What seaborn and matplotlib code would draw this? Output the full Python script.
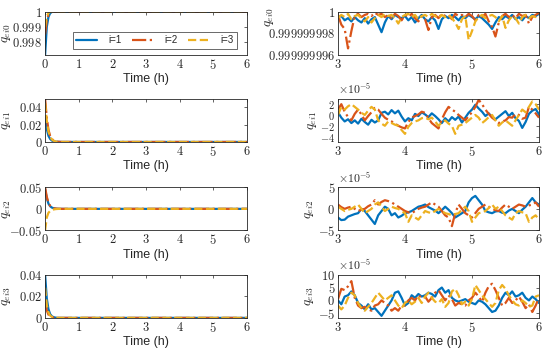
import numpy as np
import seaborn as sns
from matplotlib import pyplot as plt
from matplotlib.ticker import FuncFormatter

sns.set_style('white')
plt.rcParams['mathtext.fontset'] = 'cm'
plt.rcParams['font.family'] = ['Liberation Sans', 'DejaVu Sans']

colors = ['#0072BD', '#D95319', '#EDB120']
styles = ['-', '-.', '--']
names = ['i=1', 'i=2', 'i=3']

# transient part, whole run (0..6 h)
t_left = [0, 0.05, 0.1, 0.15, 0.2, 0.25, 0.3, 0.35, 0.4, 0.5, 6.0]
q0_left = [
    [0.99716, 0.9990, 0.99965, 0.9999, 0.99998, 1, 1, 1, 1, 1, 1],
    [0.9985, 0.99945, 0.9998, 0.99995, 1, 1, 1, 1, 1, 1, 1],
    [0.9990, 0.9997, 0.9999, 0.99998, 1, 1, 1, 1, 1, 1, 1],
]
q1_left = [
    [0.030, 0.015, 0.007, 0.0035, 0.0017, 0.0008, 0.0004, 0.0002, 0.0001, 0, 0],
    [0.050, 0.028, 0.014, 0.007, 0.0035, 0.0017, 0.0008, 0.0004, 0.0002, 0, 0],
    [0.045, 0.025, 0.012, 0.006, 0.003, 0.0015, 0.0007, 0.0003, 0.0001, 0, 0],
]
q2_left = [
    [0.045, 0.025, 0.012, 0.006, 0.003, 0.0015, 0.0007, 0.0003, 0.0001, 0, 0],
    [0.050, 0.028, 0.014, 0.007, 0.0035, 0.0017, 0.0008, 0.0004, 0.0002, 0, 0],
    [-0.050, -0.020, -0.009, -0.005, -0.003, -0.0015, -0.0007, -0.0003, -0.0001, 0, 0],
]
q3_left = [
    [0.040, 0.018, 0.008, 0.0035, 0.0015, 0.0007, 0.0003, 0.0001, 0, 0, 0],
    [0.015, 0.007, 0.003, 0.0015, 0.0007, 0.0003, 0.0001, 0, 0, 0, 0],
    [0.028, 0.012, 0.005, 0.0022, 0.001, 0.0005, 0.0002, 0.0001, 0, 0, 0],
]

# steady part (3..6 h), step 0.05 h
t_right = [3 + 0.05 * k for k in range(61)]
# q_ei0 shown as 1 - d*1e-9
q0_dev = [
    [0.5, 0.4, 0.8, 0.6, 0.9, 0.5, 0.8, 1.0, 0.6, 1.1, 0.7, 0.5, 1.2, 1.9, 1.0, 0.4, 0.7, 0.3, 0.5, 0.6,
     0.4, 0.8, 0.5, 1.0, 0.6, 0.3, 0.7, 0.9, 0.5, 0.8, 1.6, 0.7, 0.4, 0.6, 0.3, 0.5, 0.8, 0.4, 0.6, 0.3,
     0.5, 0.7, 0.4, 0.6, 0.9, 1.2, 1.6, 1.0, 0.5, 0.7, 0.4, 0.6, 0.3, 0.7, 0.5, 0.8, 0.4, 0.6, 0.3, 0.4, 0.2],
    [0.3, 1.2, 1.6, 3.4, 1.8, 0.4, 0.2, 0.5, 0.3, 0.2, 0.4, 0.1, 0.3, 0.2, 0.5, 0.3, 0.6, 0.2, 0.4, 0.8,
     0.3, 0.5, 0.2, 0.6, 0.9, 0.4, 0.7, 1.7, 0.5, 0.3, 0.6, 0.2, 0.4, 0.3, 0.7, 0.2, 0.4, 0.3, 0.5, 0.2,
     0.4, 0.8, 0.3, 0.5, 0.2, 0.9, 1.4, 2.3, 1.0, 0.4, 0.2, 0.5, 0.3, 0.6, 0.2, 0.4, 0.3, 1.1, 0.5, 0.3, 0.1],
    [0.6, 0.3, 0.5, 0.2, 0.7, 0.4, 0.3, 0.6, 0.9, 0.5, 1.0, 0.6, 0.3, 0.5, 0.2, 0.4, 0.3, 0.6, 1.1, 0.5,
     0.3, 0.2, 0.5, 0.3, 0.7, 0.4, 0.3, 0.5, 0.2, 0.4, 0.6, 0.3, 0.5, 0.3, 0.6, 1.0, 1.6, 0.7, 0.4, 2.6,
     1.8, 0.9, 0.5, 0.3, 0.6, 0.4, 0.3, 0.5, 0.9, 0.4, 1.5, 0.8, 0.4, 0.6, 1.1, 0.5, 0.3, 0.6, 0.4, 0.5, 0.3],
]
# q_ei1..q_ei3 in units of 1e-5
q1_right = [
    [0.5, -0.5, -1.2, -0.8, -1.5, -1.0, -1.6, -0.7, -1.3, -1.8, -0.9, -1.4, -1.0, 0.4, 0.6, 0.1, 0.9, 0.3, 0.8, -0.3,
     -1.2, -0.6, -1.0, 0.2, -0.2, 0.5, 0.1, -0.4, 0.3, -0.2, -0.8, -1.5, -0.6, -1.2, -0.4, -0.9, -0.3, -1.4, -0.5, 0.4,
     1.0, 1.9, 1.2, 0.6, -0.2, 0.3, -0.4, -0.8, -0.3, 0.2, 0.7, -0.2, 0.4, -0.6, -1.1, -2.4, -1.3, 0.2, 0.8, 1.1, 0.1],
    [1.0, 2.0, 0.6, -0.4, -1.0, 0.2, 1.0, 0.1, -1.0, -0.2, 0.5, 1.3, 1.0, 0.2, -0.5, -0.9, -1.2, -1.6, -2.0, -2.3,
     -2.5, -1.3, -0.5, -0.2, 0.1, 0.6, 0.4, -0.6, -1.5, -2.0, -2.5, -0.8, 0.5, 1.5, 1.0, 0.6, 0.0, -0.5, -1.0, -0.2,
     0.5, 1.5, 2.8, 2.0, 1.0, 0.2, -0.5, -1.0, -1.5, -1.2, -1.0, -0.4, -0.5, 0.2, 0.0, -0.7, -0.5, 1.5, 1.0, 0.3, -0.5],
    [0.0, 1.5, 1.0, 1.6, 2.0, 1.5, 1.0, 0.4, 0.0, 0.8, 1.5, 1.0, -1.0, -1.6, -2.0, -1.2, -1.5, -1.8, -2.0, -2.8,
     -3.5, -2.2, -1.5, -1.2, -1.0, -0.6, -0.5, -0.8, -0.5, -1.2, -2.0, -1.4, -1.0, -1.6, -2.0, -3.5, -2.0, -1.8, -1.5, -1.0,
     -0.5, 0.0, -0.5, -1.5, -1.0, -0.4, 0.0, -1.0, -2.0, -1.4, -1.0, -1.5, -2.0, -1.0, 0.0, 1.0, 0.5, 1.5, 2.5, 2.0, 1.0],
]
q2_right = [
    [-2.0, -2.6, -2.5, -1.8, -1.5, -1.2, -1.0, 0.0, -0.5, -1.5, -2.5, -3.5, -1.5, -0.5, 0.5, 0.0, -1.5, -1.0, -2.0, -1.6,
     -1.0, -0.8, -0.5, 0.0, 0.5, 0.7, 1.0, 0.4, 0.0, -0.4, -1.0, -0.3, 0.5, -0.2, -1.0, -2.0, -1.5, -1.0, -0.5, 1.5,
     2.5, 3.0, 2.0, 1.0, -0.5, -0.8, -1.0, -0.6, -0.5, -0.9, -1.0, -0.4, 0.0, -0.5, -1.0, -0.2, 0.5, 1.5, 2.5, 1.5, 1.0],
    [1.0, 0.4, 0.0, 0.3, 0.5, 0.0, -0.5, -0.2, 0.0, 0.6, 1.0, 2.0, 1.0, 1.6, 2.0, 1.8, 1.5, 1.0, 0.5, 0.0,
     -0.5, -0.8, -1.0, -0.5, 0.0, 0.3, 0.5, 1.0, 1.5, 1.0, 0.5, -0.5, -1.5, -2.0, -4.0, -1.0, 1.0, 0.0, -1.0, -1.5,
     -2.0, -1.0, 0.0, 0.5, 1.0, 0.5, 0.0, -0.3, -0.5, 0.3, 1.0, 0.5, 0.0, 0.5, 1.0, 0.8, 0.5, 0.8, 1.0, 1.5, 0.5],
    [0.5, 0.0, -0.5, -0.2, 0.0, 0.5, 1.0, 0.0, -1.0, -0.5, 0.0, 1.0, 1.5, 0.5, -0.5, 0.0, 0.5, 0.2, 0.0, -0.5,
     -1.0, -3.0, -1.5, -2.0, -2.5, -1.5, -0.5, -0.8, -1.0, -0.5, 0.0, -0.5, -1.0, -1.2, -1.5, -1.2, -1.0, -0.2, 0.5, -0.5,
     -3.0, -2.0, -1.0, -0.8, -0.5, 0.2, 1.0, 0.0, 0.5, -0.5, -1.5, -2.0, -2.5, -1.0, -0.5, -0.8, -1.0, -3.0, -2.0, -1.5, -2.5],
]
q3_right = [
    [0.0, -1.5, 1.5, 2.0, 3.5, 2.0, -1.0, -2.0, -3.5, -1.5, -3.5, -3.0, -4.5, -6.0, -4.0, -2.0, 0.0, 3.0, 3.5, 1.0,
     -2.0, -1.0, 2.0, 1.0, 2.5, 1.5, 2.0, 3.0, 2.5, 1.5, 4.0, 5.0, 3.0, 4.0, 1.0, 0.0, -0.5, 0.0, 0.5, -0.5,
     -1.0, -1.5, 0.0, -0.5, -1.5, -3.0, -4.5, -4.0, -2.0, 1.0, 3.0, 2.0, 3.5, 1.5, 2.0, 3.0, 1.0, 0.0, 1.5, 0.5, -1.0],
    [0.5, 4.5, 4.0, 5.5, 7.5, 1.0, -2.0, -3.0, -2.5, -3.5, -4.0, -2.0, -1.5, 0.0, -1.0, -2.0, -4.0, -3.0, -4.0, -2.0,
     -2.0, 0.0, 1.0, 0.0, 2.0, 1.0, 1.5, -0.5, 1.0, 3.0, 4.0, 2.0, 0.0, 2.0, 0.5, -2.0, -1.0, -1.5, -2.0, 0.0,
     1.0, 3.0, 1.5, -0.5, 3.0, 5.5, 6.5, 4.0, 1.0, -2.0, -1.0, 1.0, -1.0, 0.0, 1.5, -0.5, -3.0, -1.5, -4.5, -2.0, 1.0],
    [-2.0, -3.5, -2.0, 1.0, 3.0, 2.0, -1.0, -3.0, -4.0, -2.5, -1.0, 1.0, 3.0, 1.5, 0.0, 1.0, 2.0, 0.0, -2.0, -3.0,
     -1.0, 0.0, -1.5, -0.5, 1.0, -1.0, 1.5, 3.0, 1.0, -0.5, -1.0, 0.5, -2.5, -1.0, 3.5, 4.5, 2.0, -1.5, -0.5, -2.0,
     0.5, 6.0, 4.0, 2.0, 0.5, -1.0, -2.5, -1.0, 4.0, 6.0, 4.5, 2.0, 0.0, -1.5, -2.0, 0.0, -1.0, -2.5, -2.0, 1.5, 2.0],
]

ylabels = [r'$q_{ei0}$', r'$q_{ei1}$', r'$q_{ei2}$', r'$q_{ei3}$']
left_lims = [(0.99716, 1.0), (0, 0.05), (-0.05, 0.05), (0, 0.04)]
left_ticks = [[0.998, 0.999, 1], [0, 0.02, 0.04], [-0.05, 0, 0.05], [0, 0.02, 0.04]]
right_lims = [(0.999999996, 1.0), (-5, 3), (-5, 5), (-6.8, 10)]
right_ticks = [[0.999999996, 0.999999998, 1], [-4, -2, 0, 2], [-5, 0, 5], [-5, 0, 5, 10]]

bottoms = [0.845, 0.599, 0.349, 0.102]
h = 0.122


def mtext(v, pos=None):
    s = '%.9f' % v
    s = s.rstrip('0').rstrip('.')
    if s in ('-0', ''):
        s = '0'
    return '$' + s + '$'


def style_axes(ax):
    ax.tick_params(direction='in', length=2.5, width=0.5, top=True, right=True,
                   labelsize=9, pad=2, colors='#262626')
    for sp in ax.spines.values():
        sp.set_linewidth(0.6)
        sp.set_color('#262626')
    ax.yaxis.set_major_formatter(FuncFormatter(mtext))
    ax.xaxis.set_major_formatter(FuncFormatter(mtext))
    ax.set_xlabel('Time (h)', fontsize=9, labelpad=1)


fig = plt.figure(figsize=(5.5, 3.54), dpi=100)
left_data = [q0_left, q1_left, q2_left, q3_left]
right_data = [[[1 - d * 1e-9 for d in s] for s in q0_dev], q1_right, q2_right, q3_right]

for r in range(4):
    ax = fig.add_axes([0.082, bottoms[r], 0.367, h])
    for k in range(3):
        sns.lineplot(x=t_left, y=left_data[r][k], ax=ax, color=colors[k], linestyle=styles[k],
                     lw=1.6, label=names[k] if r == 0 else None, legend=False)
    ax.set_xlim(0, 6)
    ax.set_xticks(range(7))
    ax.set_ylim(*left_lims[r])
    ax.set_yticks(left_ticks[r])
    style_axes(ax)
    ax.set_ylabel(ylabels[r], fontsize=9.5)
    ax.yaxis.set_label_coords(-0.16, 0.5)
    if r == 0:
        leg = ax.legend(ncol=3, loc='lower right', bbox_to_anchor=(0.95, 0.14), fontsize=7,
                        handlelength=2.2, columnspacing=1.1, handletextpad=1.1, borderpad=0.35,
                        frameon=True, fancybox=False, edgecolor='#262626', borderaxespad=0)
        leg.get_frame().set_linewidth(0.6)

    ax = fig.add_axes([0.6145, bottoms[r], 0.3655, h])
    for k in range(3):
        sns.lineplot(x=t_right, y=right_data[r][k], ax=ax, color=colors[k], linestyle=styles[k],
                     lw=1.6, legend=False)
    ax.set_xlim(3, 6)
    ax.set_xticks([3, 4, 5, 6])
    ax.set_ylim(*right_lims[r])
    ax.set_yticks(right_ticks[r])
    style_axes(ax)
    if r == 1:
        ax.tick_params(axis='y', labelsize=7.5)
    ax.set_ylabel(ylabels[r], fontsize=9.5, labelpad=1)
    if r == 0:
        ax.yaxis.set_label_coords(-0.31, 0.88)
    else:
        ax.text(0.0, 1.02, r'$\times 10^{-5}$', transform=ax.transAxes, fontsize=8.5,
                ha='left', va='bottom', color='#262626')

fig.savefig('out.png', dpi=100)
